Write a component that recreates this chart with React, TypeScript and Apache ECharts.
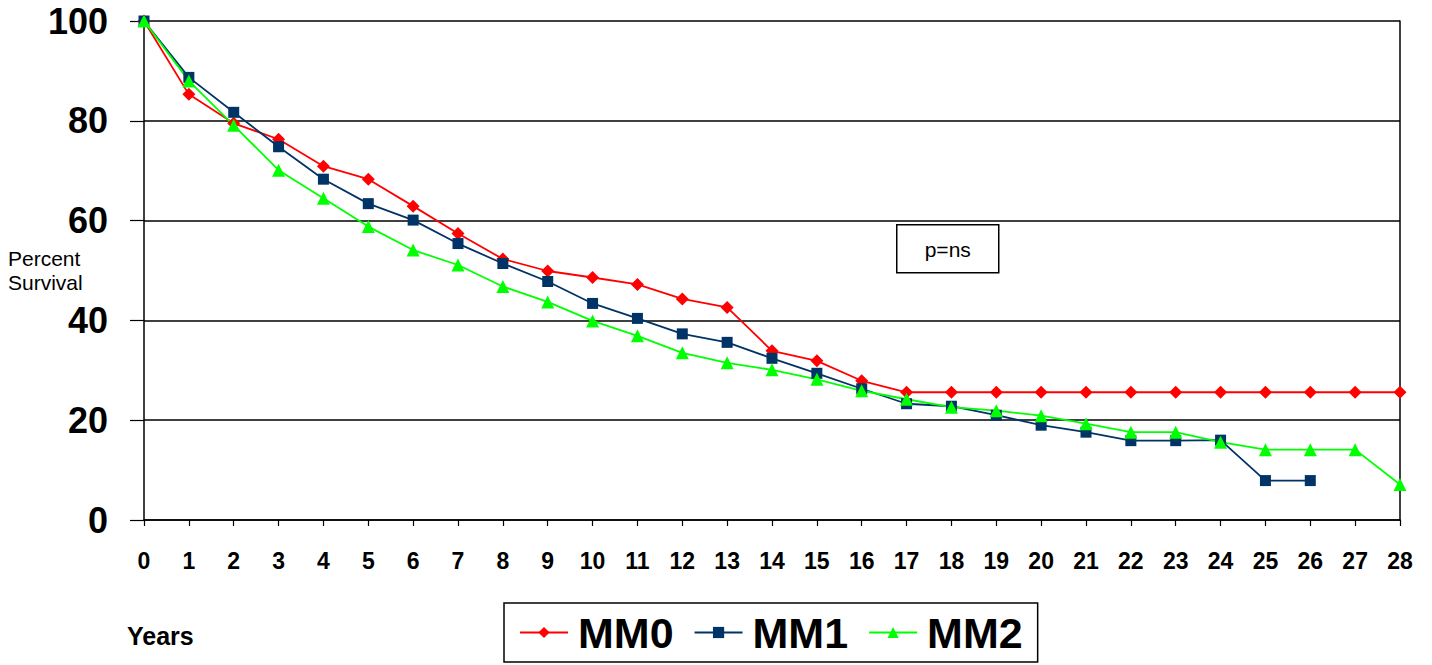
import React, { useEffect, useRef } from "react";
import * as echarts from "echarts";

const years = [0, 1, 2, 3, 4, 5, 6, 7, 8, 9, 10, 11, 12, 13, 14, 15, 16, 17, 18, 19, 20, 21, 22, 23, 24, 25, 26, 27, 28];
const yTicks = [0, 20, 40, 60, 80, 100];

const mm0 = [100, 85.3, 79.5, 76.3, 70.9, 68.3, 62.9, 57.4, 52.3, 49.9, 48.6, 47.2, 44.3, 42.6, 33.9, 31.9, 27.9, 25.6, 25.6, 25.6, 25.6, 25.6, 25.6, 25.6, 25.6, 25.6, 25.6, 25.6, 25.6];
const mm1 = [100, 88.7, 81.7, 74.8, 68.3, 63.4, 60.1, 55.4, 51.4, 47.8, 43.4, 40.4, 37.3, 35.6, 32.4, 29.4, 26.3, 23.3, 22.8, 21.0, 19.0, 17.6, 15.9, 15.9, 16.0, 7.9, 7.9];
const mm2 = [100, 88.0, 79.1, 70.1, 64.5, 58.8, 54.1, 51.1, 46.8, 43.7, 39.9, 36.9, 33.5, 31.5, 30.1, 28.2, 25.9, 24.2, 22.6, 21.9, 20.9, 19.3, 17.6, 17.6, 15.6, 14.1, 14.1, 14.1, 7.1];

const seriesNames = ["MM0", "MM1", "MM2"];
const FONT = "'Liberation Sans', Arial, sans-serif";

const pairs = (vals: number[]) => vals.map((v, i) => [years[i], v]);

export default function App() {
  const ref = useRef<HTMLDivElement>(null);
  useEffect(() => {
    if (!ref.current) return;
    const chart = echarts.init(ref.current, undefined, { renderer: "svg" });
    chart.setOption({
      animation: false,
      backgroundColor: "#ffffff",
      textStyle: { fontFamily: FONT },
      grid: { left: 144, right: 32, top: 21, bottom: 145, containLabel: false },
      xAxis: {
        type: "value",
        min: 0,
        max: 28,
        interval: 1,
        axisLine: { show: true, onZero: false, lineStyle: { color: "#000", width: 1.5 } },
        axisTick: { show: true, inside: false, length: 6, lineStyle: { color: "#000", width: 1.2 } },
        axisLabel: { color: "#000", fontSize: 23, fontWeight: "bold", fontFamily: FONT, margin: 29 },
        splitLine: { show: false },
      },
      yAxis: [
        {
          type: "value",
          min: yTicks[0],
          max: yTicks[yTicks.length - 1],
          interval: 20,
          axisLine: { show: true, lineStyle: { color: "#000", width: 1.5 } },
          axisTick: { show: true, length: 14, lineStyle: { color: "#000", width: 1.2 } },
          axisLabel: { color: "#000", fontSize: 36, fontWeight: "bold", fontFamily: FONT, margin: 36 },
          splitLine: { show: true, lineStyle: { color: "#000", width: 1.5 } },
        },
        {
          type: "value",
          position: "right",
          min: 0,
          max: 100,
          interval: 20,
          axisLine: { show: true, lineStyle: { color: "#000", width: 1.5 } },
          axisTick: { show: false },
          axisLabel: { show: false },
          splitLine: { show: false },
        },
      ],
      legend: {
        left: 504,
        top: 603,
        orient: "horizontal",
        data: seriesNames,
        borderColor: "#000",
        borderWidth: 1.5,
        padding: [8, 15, 8, 15],
        itemGap: 20,
        itemWidth: 48,
        itemHeight: 14,
        textStyle: { fontSize: 43, fontWeight: "bold", color: "#000", fontFamily: FONT, padding: [0, 0, 0, 5] },
      },
      series: [
        {
          name: seriesNames[0],
          type: "line",
          data: pairs(mm0),
          yAxisIndex: 0,
          symbol: "diamond",
          symbolSize: 13,
          lineStyle: { color: "#ff0000", width: 1.8 },
          itemStyle: { color: "#ff0000" },
        },
        {
          name: seriesNames[1],
          type: "line",
          data: pairs(mm1),
          yAxisIndex: 0,
          symbol: "rect",
          symbolSize: 11,
          lineStyle: { color: "#003366", width: 1.8 },
          itemStyle: { color: "#003366" },
        },
        {
          name: seriesNames[2],
          type: "line",
          data: pairs(mm2),
          yAxisIndex: 0,
          symbol: "triangle",
          symbolSize: 13,
          lineStyle: { color: "#00ff00", width: 1.8 },
          itemStyle: { color: "#00ff00" },
        },
      ],
      graphic: [
        {
          type: "group",
          left: 896,
          top: 224,
          children: [
            { type: "rect", shape: { x: 0, y: 0, width: 102, height: 48 }, style: { fill: "#fff", stroke: "#000", lineWidth: 1.5 } },
            {
              type: "text",
              x: 51,
              y: 25,
              style: { text: "p=ns", fontSize: 21, fontFamily: FONT, fill: "#000", align: "center", verticalAlign: "middle" },
            },
          ],
        },
        {
          type: "text",
          left: 8,
          top: 246,
          style: { text: "Percent\nSurvival", fontSize: 21, lineHeight: 24, fontFamily: FONT, fill: "#000" },
        },
        {
          type: "text",
          left: 127,
          top: 623,
          style: { text: "Years", fontSize: 25, fontWeight: "bold", fontFamily: FONT, fill: "#000" },
        },
      ],
    });
    return () => chart.dispose();
  }, []);
  return <div ref={ref} style={{ position: "absolute", left: 0, top: 0, width: 1432, height: 665 }} />;
}
